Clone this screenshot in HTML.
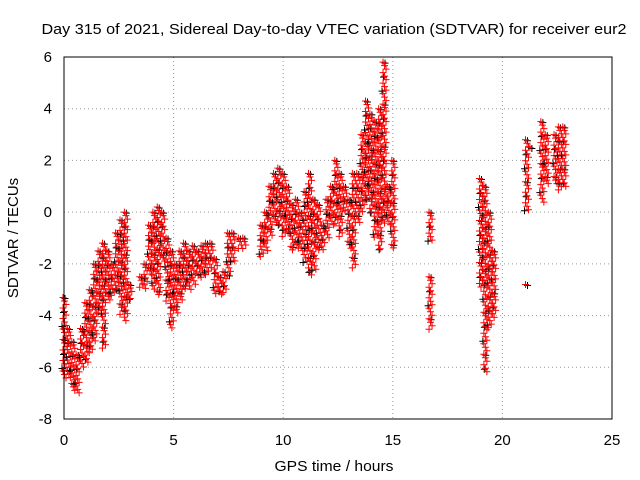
<!DOCTYPE html>
<html><head><meta charset="utf-8"><style>
html,body{margin:0;padding:0;background:#fff}
svg{display:block;font-family:"Liberation Sans",sans-serif}
</style></head><body>
<svg id="chart" width="640" height="480">
<text x="334" y="34" font-size="15" textLength="585" lengthAdjust="spacingAndGlyphs" text-anchor="middle">Day 315 of 2021, Sidereal Day-to-day VTEC variation (SDTVAR) for receiver eur2</text>
<g id="grid"></g>
<g id="ticks"></g>
<g id="marks"></g>
<rect x="64" y="57" width="548" height="362" fill="none" stroke="#000" stroke-width="1"/>
<text x="334" y="471" font-size="15" textLength="119" lengthAdjust="spacingAndGlyphs" text-anchor="middle">GPS time / hours</text>
<text transform="translate(18,238) rotate(-90)" font-size="15" text-anchor="middle">SDTVAR / TECUs</text>
</svg>
<script>
const xTicks=[0,5,10,15,20,25];
const yTicks=[-8,-6,-4,-2,0,2,4,6];
const times=[0,0.2,0.4,0.6,0.8,1.0,1.2,1.4,1.6,1.8,2.0,2.2,2.4,2.6,2.8,3.0,3.5,3.7,3.9,4.1,4.3,4.5,4.7,4.9,5.1,5.3,5.5,5.7,5.9,6.1,6.3,6.5,6.7,6.9,7.1,7.3,7.5,7.7,8.0,8.2,9.0,9.2,9.4,9.6,9.8,10.0,10.2,10.4,10.6,10.8,11.0,11.2,11.4,11.6,11.8,12.0,12.2,12.4,12.6,12.8,13.0,13.2,13.4,13.6,13.8,14.0,14.2,14.4,14.6,14.8,15.0,16.7,16.7,19.0,19.2,19.4,19.6,21.1,21.1,21.3,21.8,22.0,22.4,22.6,22.8];
const hiVals=[-3.3,-4.5,-5,-5.5,-4.5,-3.5,-3,-2,-1.5,-1.2,-1.5,-2,-0.8,-0.3,0,-2.8,-2.5,-2,-0.5,0,0.2,0,-1,-1.5,-2,-1.5,-1.2,-1.5,-1.3,-1.5,-1.3,-1.2,-1.2,-1.8,-2.5,-2.3,-0.8,-0.8,-1,-1,-0.5,0,1,1.5,1.7,1.5,1,0.3,0.5,0,0.8,1.5,0.5,0.3,-0.5,0.5,1,2,1.5,1,0.5,1.5,1.5,3,4.3,3.8,3.5,4,5.8,1,2,0,-2.5,1.3,1,0,-1.5,2.8,-2.8,2.5,3.5,3,3,3.3,3.3];
const loVals=[-6.5,-6.5,-7,-7,-6,-5.8,-5.5,-5,-4,-5.3,-3.5,-3.3,-3,-4,-4.2,-3.4,-3,-3,-2.5,-3,-3.2,-2,-3.5,-4.5,-4,-3.5,-3,-3,-2.8,-2.5,-2.6,-2.5,-2.2,-3.2,-3.3,-3.2,-2.5,-2,-1.5,-1.5,-1.8,-1.5,-1,-0.5,-0.5,-1,-0.8,-1.5,-1.5,-1.5,-2,-2.5,-2.3,-1.5,-1.5,-1,-0.5,-0.5,-1,0,-1.5,-2.2,-0.5,0,0.5,0,-1,-1.5,-0.5,-0.5,-1.5,-1.2,-4.6,-3,-6.2,-4.5,-4.2,0,-2.9,2.5,0.3,1,1,0.8,1];
const NS='http://www.w3.org/2000/svg';
const X=t=>64+t*548/25, Y=v=>419-(v+8)*362/14;
const grid=document.getElementById('grid'),ticks=document.getElementById('ticks'),marks=document.getElementById('marks');
function mk(tag,attrs,parent){const e=document.createElementNS(NS,tag);for(const k in attrs)e.setAttribute(k,attrs[k]);parent.appendChild(e);return e;}
xTicks.forEach(t=>{
 if(t>0&&t<25){const g=mk('line',{x1:X(t),x2:X(t),y1:57,y2:419,stroke:'#999','stroke-dasharray':'1,3'},grid);
 
 }
 const l=mk('text',{x:X(t),y:445,'font-size':15,'text-anchor':'middle'},ticks);l.textContent=t;
 
 
});
yTicks.forEach(v=>{
 if(v>-8&&v<6){const g=mk('line',{x1:64,x2:612,y1:Y(v),y2:Y(v),stroke:'#999','stroke-dasharray':'1,3'},grid);
 
 }
 const l=mk('text',{x:52,y:Y(v)+5,'font-size':15,'text-anchor':'end'},ticks);l.textContent=v;
 
 
});
times.forEach((t,i)=>{
 const x=X(t),y1=Y(hiVals[i]),y2=Y(loVals[i]);
 let dr='',db='',k=0;
 for(let y=y1;y<=y2+0.1;y+=3.5,k++){
  const dx=(k%3-1)*1.5;
  dr+=`M${x+dx-3},${y}h7M${x+dx+0.5},${y-3.5}v7`;
  if(k%4==0) db+=`M${x-dx-4},${y+1}h7M${x-dx-0.5},${y-2.5}v7`;
 }
 const b=mk('path',{d:db,stroke:'#000','stroke-width':1,fill:'none'},marks);
 
 
 const r=mk('path',{d:dr,stroke:'#f00','stroke-width':1,fill:'none'},marks);
 
 
});
</script>
</body></html>
